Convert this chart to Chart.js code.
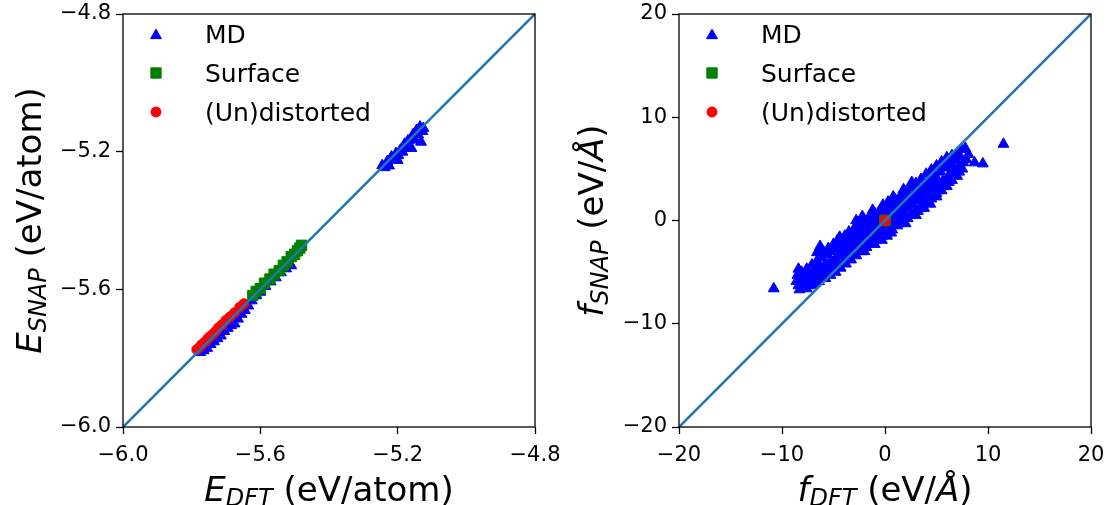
<!DOCTYPE html>
<html>
<head>
<meta charset="utf-8">
<script src="https://cdn.jsdelivr.net/npm/chart.js@4/dist/chart.umd.min.js"></script>
<style>
  html, body { margin: 0; padding: 0; background: #fff; }
  #wrap { position: relative; width: 1109px; height: 505px; overflow: hidden; }
  canvas { position: absolute; top: 0; }
</style>
</head>
<body>
<div id="wrap">
  <canvas id="c1" width="585" height="505" style="left:0"></canvas>
  <canvas id="c2" width="554" height="505" style="left:555px"></canvas>
</div>
<script>
// ---------------- DATA ----------------
const seriesNames = ['MD', 'Surface', '(Un)distorted'];

// Left panel: energies (eV/atom), [E_DFT, E_SNAP]
const energyMD = [
  [-5.245,-5.240],[-5.238,-5.246],[-5.230,-5.228],[-5.225,-5.241],[-5.218,-5.215],
  [-5.210,-5.222],[-5.205,-5.205],[-5.198,-5.211],[-5.192,-5.195],[-5.186,-5.201],
  [-5.180,-5.178],[-5.175,-5.190],[-5.170,-5.168],[-5.165,-5.183],[-5.160,-5.160],
  [-5.155,-5.150],[-5.150,-5.166],[-5.145,-5.138],[-5.140,-5.151],[-5.135,-5.128],
  [-5.132,-5.172],[-5.128,-5.141],[-5.125,-5.132],[-5.160,-5.190],[-5.200,-5.225],
  [-5.775,-5.783],[-5.765,-5.778],[-5.755,-5.771],[-5.745,-5.760],[-5.735,-5.752],
  [-5.725,-5.743],[-5.715,-5.735],[-5.705,-5.722],[-5.695,-5.713],[-5.685,-5.705],
  [-5.675,-5.700],[-5.665,-5.686],[-5.655,-5.672],[-5.645,-5.661],[-5.635,-5.648],
  [-5.625,-5.633],[-5.612,-5.618],[-5.600,-5.608],[-5.585,-5.591],[-5.570,-5.578],
  [-5.555,-5.566],[-5.540,-5.551],[-5.525,-5.540],[-5.510,-5.531]
];
const energySurface = [
  [-5.622,-5.618],[-5.612,-5.606],[-5.600,-5.598],[-5.588,-5.582],[-5.572,-5.570],
  [-5.560,-5.556],[-5.545,-5.546],[-5.533,-5.530],[-5.522,-5.520],[-5.510,-5.505],
  [-5.500,-5.498],[-5.492,-5.488],[-5.485,-5.480],[-5.480,-5.472]
];
const energyDistorted = [
  [-5.785,-5.775],[-5.778,-5.770],[-5.772,-5.762],[-5.765,-5.756],[-5.758,-5.750],
  [-5.752,-5.742],[-5.745,-5.736],[-5.738,-5.730],[-5.730,-5.722],[-5.722,-5.712],
  [-5.712,-5.703],[-5.700,-5.690],[-5.688,-5.680],[-5.675,-5.668],[-5.660,-5.652],
  [-5.648,-5.642]
];

// Right panel: forces (eV/Å), [f_DFT, f_SNAP]
const forceMD = [
  [-10.8,-6.6],[-8.3,-6.7],[-8.4,-4.7],[-8.3,-5.7],[-7.6,-6.6],[-7.0,-6.2],
  [-8.6,-5.9],[-8.4,-6.3],[-8.5,-5.3],
  [-8.0,-6.1],[-7.9,-5.5],[-8.1,-5.0],[-7.8,-6.4],
  [-7.5,-5.9],[-7.4,-5.2],[-7.6,-4.7],[-7.3,-6.3],[-7.5,-5.5],
  [-7.0,-5.7],[-6.9,-4.9],[-7.1,-4.3],[-6.8,-6.0],[-7.0,-5.2],
  [-6.5,-5.5],[-6.4,-4.6],[-6.6,-3.9],[-6.3,-2.5],[-6.6,-3.1],[-6.4,-5.9],[-6.5,-4.2],
  [-6.0,-5.2],[-5.9,-4.4],[-6.1,-3.6],[-5.8,-5.6],[-6.0,-3.0],[-6.1,-4.8],
  [-5.5,-4.9],[-5.4,-4.1],[-5.6,-3.3],[-5.3,-5.3],[-5.5,-2.7],[-5.6,-4.5],
  [-5.0,-4.6],[-4.9,-3.8],[-5.1,-3.0],[-4.8,-5.0],[-5.0,-2.3],[-5.1,-4.2],
  [-4.5,-4.2],[-4.4,-3.4],[-4.6,-2.6],[-4.4,-1.6],[-4.3,-4.6],[-4.6,-1.9],[-4.5,-3.0],
  [-4.0,-3.9],[-3.9,-3.1],[-4.1,-2.3],[-3.9,-1.5],[-3.8,-4.2],[-4.0,-2.7],
  [-3.5,-3.5],[-3.4,-2.7],[-3.6,-1.9],[-3.5,-1.1],[-3.3,-3.8],[-3.6,-2.3],
  [-3.0,-3.1],[-2.9,-2.3],[-3.1,-1.5],[-3.0,-0.8],[-2.8,-3.4],[-3.1,-2.0],
  [-2.5,-2.7],[-2.4,-1.9],[-2.6,-1.1],[-2.5,-0.4],[-2.3,-3.0],[-2.6,-1.5],
  [-2.0,-2.4],[-1.9,-1.6],[-2.1,-0.8],[-2.0,0.0],[-1.8,-2.6],[-2.1,-1.2],
  [-1.5,-2.0],[-1.4,-1.2],[-1.6,-0.4],[-1.5,0.4],[-1.3,-2.2],[-1.6,-0.9],
  [-1.0,-1.7],[-0.9,-0.9],[-1.1,-0.1],[-1.0,0.7],[-0.8,-1.9],[-1.1,-0.5],
  [-0.5,-1.3],[-0.4,-0.5],[-0.6,0.3],[-0.5,1.0],[-0.3,-1.5],[-0.6,-0.1],
  [0.0,-1.0],[0.1,-0.2],[-0.1,0.6],[0.0,1.2],[0.2,-1.2],[-0.1,0.2],
  [0.5,-0.7],[0.6,0.1],[0.4,0.9],[0.5,1.6],[0.7,-0.9],[0.4,0.5],
  [1.0,-0.3],[1.1,0.5],[0.9,1.3],[1.0,2.0],[1.2,-0.5],[0.9,0.9],
  [1.5,0.0],[1.6,0.8],[1.4,1.6],[1.5,2.4],[1.7,-0.2],[1.4,1.2],
  [2.0,0.4],[2.1,1.2],[1.9,2.0],[2.0,2.8],[2.2,0.2],[1.9,1.6],
  [2.5,0.7],[2.6,1.5],[2.4,2.4],[2.5,3.2],[2.7,0.5],[2.4,1.9],
  [3.0,1.0],[3.1,1.9],[2.9,2.7],[3.0,3.6],[3.2,0.9],[2.9,2.3],
  [3.5,1.4],[3.6,2.2],[3.4,3.1],[3.5,4.0],[3.7,1.2],[3.4,2.7],
  [4.0,1.8],[4.1,2.6],[3.9,3.5],[4.0,4.5],[4.4,1.6],[3.9,3.0],
  [4.5,2.1],[4.6,3.0],[4.4,3.9],[4.5,4.9],[5.0,2.3],[4.4,3.4],
  [5.0,2.6],[5.1,3.4],[4.9,4.3],[5.0,5.3],[5.2,2.9],[4.9,3.8],
  [5.5,2.9],[5.6,3.8],[5.4,4.7],[5.5,5.7],[5.7,3.3],[5.4,5.2],
  [6.0,3.3],[6.1,4.2],[5.9,5.1],[6.0,6.1],[6.2,3.7],[5.9,5.6],
  [6.5,3.9],[6.6,4.6],[6.4,5.4],[6.5,6.3],[6.7,5.0],[6.4,5.9],
  [7.0,4.3],[7.1,5.1],[6.9,5.8],[7.0,6.5],[7.2,4.7],
  [7.5,5.0],[7.4,6.9],[7.6,5.6],[7.3,6.2],
  [7.8,7.0],[7.9,5.9],[8.7,5.6],[9.5,5.5],[11.5,7.4],[8.1,6.4],
  [-2.8,0.0],[-2.2,0.4],[-1.2,1.0],[-0.2,1.5],[0.3,1.8],[0.8,2.3],[1.8,3.0],[2.6,3.7],
  [-2.0,-3.0],[-1.0,-2.3],[-0.3,-1.9],[0.2,-1.5],[0.6,-1.2],[2.0,-0.3],[3.0,0.5],[3.8,1.2]
];
const forceSurface = [[0.0,0.0],[0.05,0.02],[-0.03,-0.02]];
const forceDistorted = [[0.0,0.0],[0.03,0.01],[-0.02,-0.01]];

// Axis ranges and tick labels
const energyRange = [-6.0, -4.8];
const energyTicks = [-6.0, -5.6, -5.2, -4.8];
const energyTickLabels = ['\u22126.0', '\u22125.6', '\u22125.2', '\u22124.8'];
const forceRange = [-20, 20];
const forceTicks = [-20, -10, 0, 10, 20];
const forceTickLabels = ['\u221220', '\u221210', '0', '10', '20'];

// ---------------- STYLE ----------------
const FONT = 'DejaVu Sans';
const COL = { md: '#0000ff', surf: '#008000', dist: '#ff0000', line: '#1f77b4' };
const R = { tri: 6.3, rect: 7.3, circ: 5.0 };

const toXY = arr => arr.map(p => ({ x: p[0], y: p[1] }));

function axis(range, ticks, labels, isX, size) {
  return {
    type: 'linear', min: range[0], max: range[1],
    afterBuildTicks: s => { s.ticks = ticks.map(v => ({ value: v })); },
    afterFit: s => {
      if (isX) { s.height = size; s.paddingLeft = 0; s.paddingRight = 0; }
      else { s.width = size; s.paddingTop = 0; s.paddingBottom = 0; }
    },
    ticks: {
      callback: (v, i) => labels[i],
      font: { family: FONT, size: 21 }, color: '#000',
      padding: isX ? 9 : 5, maxRotation: 0, autoSkip: false
    },
    grid: { drawOnChartArea: false, drawTicks: true, tickLength: 7, tickColor: '#000', tickWidth: 1.3 },
    border: { display: false }
  };
}

function drawMarker(ctx, style, x, y, r, color) {
  ctx.save();
  ctx.fillStyle = color; ctx.strokeStyle = color; ctx.lineWidth = 1;
  ctx.beginPath();
  if (style === 'triangle') {
    let a = 0;
    ctx.moveTo(x + Math.sin(a) * r, y - Math.cos(a) * r);
    a += 2 * Math.PI / 3; ctx.lineTo(x + Math.sin(a) * r, y - Math.cos(a) * r);
    a += 2 * Math.PI / 3; ctx.lineTo(x + Math.sin(a) * r, y - Math.cos(a) * r);
    ctx.closePath();
  } else if (style === 'rect') {
    const s = Math.SQRT1_2 * r;
    ctx.rect(x - s, y - s, 2 * s, 2 * s);
  } else {
    ctx.arc(x, y, r, 0, Math.PI * 2);
  }
  ctx.fill(); ctx.stroke();
  ctx.restore();
}

function drawParts(ctx, parts, cx, baseY) {
  let total = 0;
  parts.forEach(p => { ctx.font = p.font; p.w = ctx.measureText(p.t).width; total += p.w; });
  let x = cx - total / 2;
  ctx.textAlign = 'left'; ctx.textBaseline = 'alphabetic'; ctx.fillStyle = '#000';
  parts.forEach(p => { ctx.font = p.font; ctx.fillText(p.t, x, baseY + (p.dy || 0)); x += p.w; });
}

const IT = 'italic 34px "' + FONT + '"';
const RG = '34px "' + FONT + '"';
const SUB = 'italic 24px "' + FONT + '"';

const deco = {
  id: 'deco',
  afterDraw(chart, args, o) {
    const { ctx, chartArea: a } = chart;
    ctx.save();
    // full frame
    ctx.strokeStyle = '#000'; ctx.lineWidth = 1.3;
    ctx.strokeRect(a.left, a.top, a.right - a.left, a.bottom - a.top);
    // legend
    const styles = ['triangle', 'rect', 'circle'];
    const cols = [COL.md, COL.surf, COL.dist];
    const radii = [R.tri, R.rect, R.circ];
    const rows = [20, 59, 98];
    seriesNames.forEach((name, i) => {
      const y = a.top + rows[i];
      drawMarker(ctx, styles[i], a.left + 33, y + (i === 0 ? 1.5 : 0), radii[i], cols[i]);
      ctx.font = '25px "' + FONT + '"'; ctx.fillStyle = '#000';
      ctx.textAlign = 'left'; ctx.textBaseline = 'alphabetic';
      ctx.fillText(name, a.left + 82, y + 9);
    });
    // x title
    drawParts(ctx, o.xTitle, (a.left + a.right) / 2, 501);
    // y title (rotated)
    ctx.translate(a.left - o.yOff, (a.top + a.bottom) / 2);
    ctx.rotate(-Math.PI / 2);
    drawParts(ctx, o.yTitle, 0, 0);
    ctx.restore();
  }
};

function makeChart(id, range, ticks, labels, md, surf, dist, padRight, yWidth, titles) {
  return new Chart(document.getElementById(id), {
    type: 'scatter',
    data: {
      datasets: [
        { label: seriesNames[0], data: toXY(md), pointStyle: 'triangle', pointRadius: R.tri,
          backgroundColor: COL.md, borderColor: COL.md, borderWidth: 1, order: 3 },
        { label: seriesNames[1], data: toXY(surf), pointStyle: 'rect', pointRadius: R.rect,
          backgroundColor: COL.surf, borderColor: COL.surf, borderWidth: 1, order: 2 },
        { label: seriesNames[2], data: toXY(dist), pointStyle: 'circle', pointRadius: R.circ,
          backgroundColor: COL.dist, borderColor: COL.dist, borderWidth: 1, order: 1 },
        { label: 'y=x', data: [{ x: range[0], y: range[0] }, { x: range[1], y: range[1] }],
          showLine: true, borderColor: COL.line, borderWidth: 2.6, pointRadius: 0, order: 0 }
      ]
    },
    options: {
      responsive: false, animation: false, devicePixelRatio: 1, events: [],
      layout: { padding: { left: 0, top: 14, right: padRight, bottom: 0 } },
      scales: {
        x: axis(range, ticks, labels, true, 78),
        y: axis(range, ticks, labels, false, yWidth)
      },
      plugins: {
        legend: { display: false }, tooltip: { enabled: false },
        deco: titles
      }
    },
    plugins: [deco]
  });
}

makeChart('c1', energyRange, energyTicks, energyTickLabels, energyMD, energySurface, energyDistorted, 50, 123, {
  xTitle: [{ t: 'E', font: IT }, { t: 'DFT', font: SUB, dy: 5 }, { t: ' (eV/atom)', font: RG }],
  yTitle: [{ t: 'E', font: IT }, { t: 'SNAP', font: SUB, dy: 5 }, { t: ' (eV/atom)', font: RG }],
  yOff: 82
});
makeChart('c2', forceRange, forceTicks, forceTickLabels, forceMD, forceSurface, forceDistorted, 18, 124, {
  xTitle: [{ t: 'f', font: IT }, { t: 'DFT', font: SUB, dy: 5 }, { t: ' (eV/', font: RG }, { t: '\u00C5', font: IT }, { t: ')', font: RG }],
  yTitle: [{ t: 'f', font: IT }, { t: 'SNAP', font: SUB, dy: 5 }, { t: ' (eV/', font: RG }, { t: '\u00C5', font: IT }, { t: ')', font: RG }],
  yOff: 76
});
</script>
</body>
</html>
